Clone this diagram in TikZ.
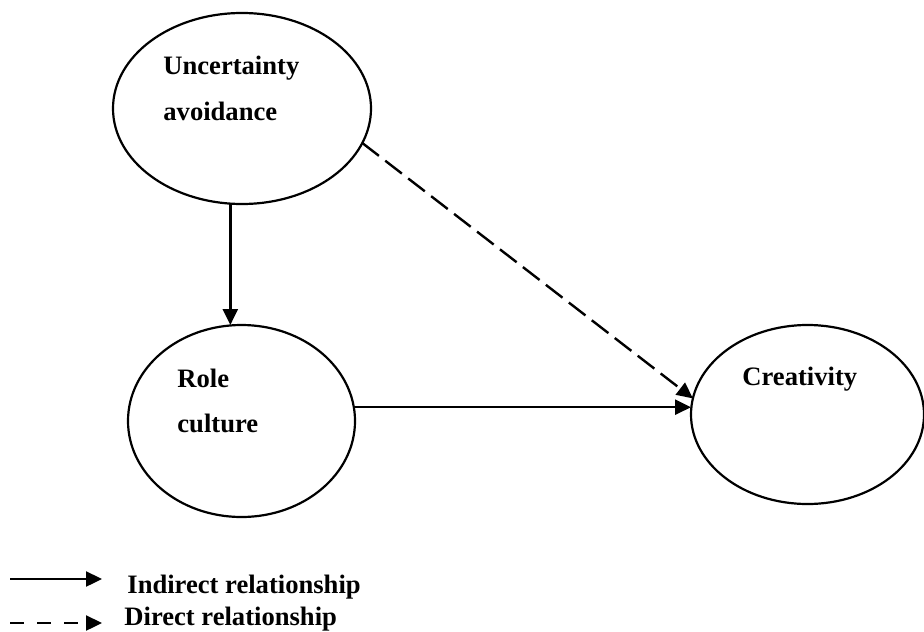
\documentclass[tikz,border=0pt]{standalone}
\usepackage{fontspec}
\setmainfont{Liberation Serif}
\usetikzlibrary{shapes.geometric,arrows.meta}
\begin{document}
\begin{tikzpicture}[x=0.5pt,y=-0.5pt,
  construct/.style={draw, ellipse, line width=1.1pt, inner sep=0pt, outer sep=0pt},
  caption/.style={anchor=base west, inner sep=0pt, font=\bfseries\fontsize{13.3}{16}\selectfont},
  link/.style={line width=1.2pt, -{Triangle[length=8pt,width=7.5pt]}},
  direct/.style={link, dash pattern=on 10.5pt off 4pt}]
\useasboundingbox (0,0) rectangle (924,631);

% constructs
\node[construct, minimum width=129pt, minimum height=95.5pt] (ua) at (242,108.5) {};
\node[construct, minimum width=113.5pt, minimum height=96pt] (rc) at (241.5,421) {};
\node[construct, minimum width=116.5pt, minimum height=89.5pt] (cr) at (807.5,414.5) {};

\node[caption] (uatop) at (163,75) {Uncertainty};
\node[caption] (uabot) at (163,120) {avoidance};
\node[caption] (rctop) at (177,387) {Role};
\node[caption] (rcbot) at (177,432) {culture};
\node[caption] (crtxt) at (742,385) {Creativity};

% relationships
\draw[link] (ua.263) -- (ua.263 |- rc.north);
\draw[link] (rc.7) -- (rc.7 -| cr.west);
\draw[direct] (ua.-16) -- (cr.172);

% legend
\coordinate (ls1) at (10,579);
\coordinate (le1) at (102,579);
\coordinate (ls2) at (10,623);
\coordinate (le2) at (102,623);
\draw[link] (ls1) -- (le1);
\draw[link, dash pattern=on 7pt off 6.5pt] (ls2) -- (le2);
\node[caption] (lg1) at (127,593) {Indirect relationship};
\node[caption] (lg2) at (124,625) {Direct relationship};
\end{tikzpicture}
\end{document}
